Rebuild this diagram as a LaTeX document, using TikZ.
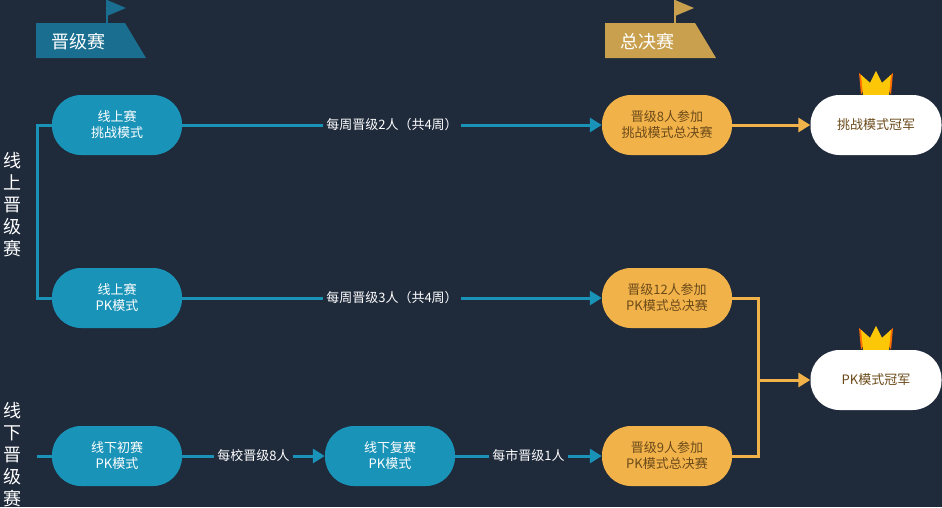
\documentclass[tikz,border=0pt]{standalone}
\usepackage{fontspec}
\setmainfont{Noto Sans CJK SC}
\usetikzlibrary{arrows.meta,positioning,calc}
\definecolor{bgdark}{HTML}{1F2A3B}
\definecolor{stageblue}{HTML}{1A93B8}
\definecolor{stagegold}{HTML}{F2B24A}
\definecolor{headblue}{HTML}{1A6E90}
\definecolor{headgold}{HTML}{C9A04E}
\definecolor{goldtext}{HTML}{6B4A1A}
\tikzset{
  stage/.style={rounded corners=29pt,minimum width=130pt,minimum height=60pt,align=center,font=\fontsize{13}{16}\selectfont,inner sep=0pt},
  bluestage/.style={stage,fill=stageblue,text=white},
  goldstage/.style={stage,fill=stagegold,text=goldtext},
  champbox/.style={stage,fill=white,text=goldtext,minimum width=131pt},
  blueline/.style={line width=3pt,draw=stageblue},
  goldline/.style={line width=3pt,draw=stagegold},
  bluearrow/.style={blueline,-{Triangle[length=12pt,width=14pt]}},
  goldarrow/.style={goldline,-{Triangle[length=12pt,width=14pt]}},
  flow/.style={fill=bgdark,text=white,font=\fontsize{13}{16}\selectfont,inner sep=3pt},
  side/.style={text=white,font=\fontsize{18}{22}\selectfont,align=center,inner sep=0pt}
}
\begin{document}
\begin{tikzpicture}[x=1pt,y=-1pt]
	\fill[bgdark] (0,0) rectangle (942,507);
	\useasboundingbox (0,0) rectangle (942,507);
	% headers
	\draw[headblue,line width=2pt] (107,23) -- (107,0);
	\fill[headblue] (107,0) -- (126,8) -- (107,16) -- cycle;
	\fill[headblue] (36,23) -- (125,23) -- (146,58) -- (36,58) -- cycle;
	\node[text=white,font=\fontsize{18}{22}\selectfont,anchor=west] (headup) at (48,42) {晋级赛};
	\draw[headgold,line width=2pt] (675,23) -- (675,0);
	\fill[headgold] (675,0) -- (694,8) -- (675,16) -- cycle;
	\fill[headgold] (605,23) -- (695,23) -- (716,58) -- (605,58) -- cycle;
	\node[text=white,font=\fontsize{18}{22}\selectfont,anchor=west] (headfinal) at (617,42) {总决赛};
	% stages
	\node[bluestage] (on1) at (117,125) {线上赛\\挑战模式};
	\node[bluestage] (on2) at (117,298) {线上赛\\PK模式};
	\node[bluestage] (off1) at (117,456) {线下初赛\\PK模式};
	\node[bluestage] (off2) at (390,456) {线下复赛\\PK模式};
	\node[goldstage] (fin1) at (667,125) {晋级8人参加\\挑战模式总决赛};
	\node[goldstage] (fin2) at (667,298) {晋级12人参加\\PK模式总决赛};
	\node[goldstage] (fin3) at (667,456) {晋级9人参加\\PK模式总决赛};
	\node[champbox] (champ1) at (876,125) {挑战模式冠军};
	\node[champbox] (champ2) at (876,380) {PK模式冠军};
	% crowns
	\foreach \c in {champ1,champ2}{
		\fill[orange!85!red] ($(\c.north)+(-15,0)$) -- ($(\c.north)+(-17,-22)$) -- ($(\c.north)+(-8,-13)$) -- cycle;
		\fill[orange!85!red] ($(\c.north)+(15,0)$) -- ($(\c.north)+(17,-22)$) -- ($(\c.north)+(8,-13)$) -- cycle;
		\fill[yellow!60!orange] ($(\c.north)+(-13,0)$) -- ($(\c.north)+(-15,-20)$) -- ($(\c.north)+(-6,-12)$) -- ($(\c.north)+(0,-24)$) -- ($(\c.north)+(6,-12)$) -- ($(\c.north)+(15,-20)$) -- ($(\c.north)+(13,0)$) -- cycle;
	}
	% side labels
	\node[side] (sideon) at (13,205) {线\\上\\晋\\级\\赛};
	\node[side] (sideoff) at (13,455) {线\\下\\晋\\级\\赛};
	\coordinate (brtop) at (37,125);
	\coordinate (brbot) at (37,298);
	\coordinate (offin) at (37,456);
	\draw[blueline] (on1.west) -- (brtop) -- (brbot) -- (on2.west);
	\draw[blueline] (offin) -- (off1.west);
	% flows
	\draw[bluearrow] (on1.east) -- node[flow] (lab1) {每周晋级2人（共4周）} (fin1.west);
	\draw[bluearrow] (on2.east) -- node[flow] (lab2) {每周晋级3人（共4周）} (fin2.west);
	\draw[bluearrow] (off1.east) -- node[flow] (lab3) {每校晋级8人} (off2.west);
	\draw[bluearrow] (off2.east) -- node[flow] (lab4) {每市晋级1人} (fin3.west);
	\draw[goldarrow] (fin1.east) -- (champ1.west);
	\coordinate (join) at (758,380);
	\draw[goldline] (fin2.east) -| (join);
	\draw[goldline] (fin3.east) -| (join);
	\draw[goldarrow] (join) -- (champ2.west);
\end{tikzpicture}
\end{document}
